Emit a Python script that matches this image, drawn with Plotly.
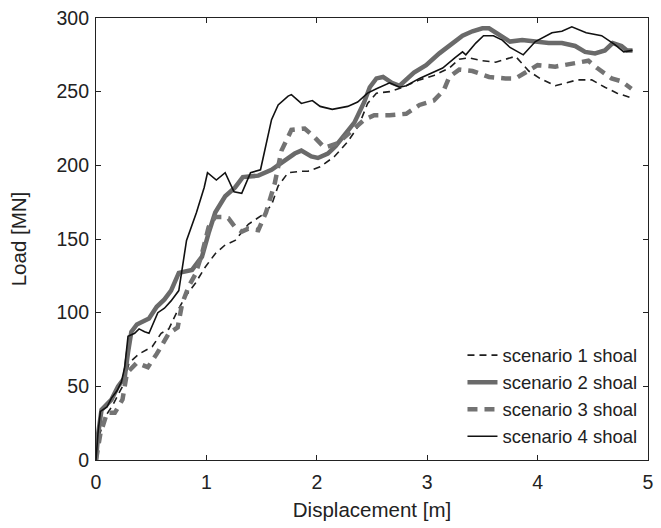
import plotly.graph_objects as go

# Load–displacement curves for four shoal scenarios
s1_x = [0, 0.02, 0.08, 0.15, 0.24, 0.30, 0.39, 0.51, 0.59, 0.66, 0.73, 0.81, 0.90, 0.99, 1.08, 1.17,
        1.26, 1.38, 1.50, 1.59, 1.65, 1.74, 1.86, 1.92, 2.03, 2.16, 2.28, 2.38, 2.46, 2.54, 2.66, 2.78,
        2.93, 3.06, 3.20, 3.29, 3.38, 3.50, 3.62, 3.74, 3.80, 3.92, 4.02, 4.16, 4.25, 4.36, 4.49, 4.61,
        4.72, 4.84]
s1_y = [0, 14, 29, 37, 50, 66, 72, 77, 86, 89, 100, 111, 120, 131, 140, 146,
        149, 160, 166, 173, 186, 195, 196, 196, 199, 206, 216, 227, 242, 249, 250, 253,
        258, 261, 266, 272, 273, 271, 270, 273, 274, 264, 259, 254, 256, 258, 258, 253,
        249, 246]

s2_x = [0, 0.02, 0.05, 0.14, 0.20, 0.26, 0.29, 0.32, 0.37, 0.42, 0.48, 0.55, 0.62, 0.68, 0.75, 0.87,
        0.96, 1.02, 1.08, 1.17, 1.26, 1.33, 1.47, 1.59, 1.71, 1.80, 1.86, 1.95, 2.01, 2.10, 2.17, 2.25,
        2.34, 2.43, 2.48, 2.54, 2.60, 2.68, 2.75, 2.88, 2.99, 3.11, 3.20, 3.32, 3.41, 3.50, 3.56, 3.65,
        3.75, 3.86, 3.98, 4.10, 4.22, 4.34, 4.43, 4.52, 4.61, 4.68, 4.76, 4.81, 4.86]
s2_y = [0, 18, 34, 41, 50, 56, 73, 87, 92, 94, 96, 104, 109, 115, 127, 129,
        138, 154, 168, 179, 185, 192, 193, 197, 203, 208, 210, 206, 205, 208, 213, 220,
        229, 243, 253, 259, 260, 256, 254, 263, 268, 276, 281, 288, 291, 293, 293, 289,
        284, 285, 284, 283, 283, 281, 277, 276, 278, 283, 281, 278, 278]

s3_x = [0, 0.04, 0.10, 0.17, 0.24, 0.28, 0.37, 0.47, 0.55, 0.66, 0.74, 0.78, 0.84, 0.90, 0.96, 1.02,
        1.08, 1.14, 1.20, 1.26, 1.32, 1.38, 1.47, 1.54, 1.62, 1.68, 1.77, 1.89, 1.98, 2.07, 2.19, 2.30,
        2.43, 2.52, 2.66, 2.81, 2.93, 3.06, 3.15, 3.20, 3.29, 3.41, 3.56, 3.71, 3.80, 3.89, 4.00, 4.16,
        4.31, 4.46, 4.54, 4.67, 4.76, 4.85]
s3_y = [0, 18, 32, 32, 41, 59, 66, 63, 72, 86, 90, 106, 118, 126, 140, 158,
        165, 165, 164, 158, 155, 157, 156, 168, 188, 210, 224, 225, 219, 212, 215, 222,
        231, 234, 234, 235, 241, 244, 251, 260, 265, 264, 260, 259, 259, 263, 268, 267,
        269, 271, 266, 259, 257, 252]

s4_x = [0, 0.02, 0.04, 0.10, 0.14, 0.19, 0.23, 0.26, 0.29, 0.35, 0.39, 0.44, 0.48, 0.56, 0.62, 0.68,
        0.75, 0.82, 0.91, 0.98, 1.01, 1.09, 1.17, 1.25, 1.32, 1.40, 1.49, 1.59, 1.65, 1.74, 1.77, 1.86,
        1.96, 2.03, 2.14, 2.28, 2.37, 2.46, 2.54, 2.66, 2.75, 2.81, 2.93, 3.02, 3.14, 3.25, 3.32, 3.35,
        3.44, 3.51, 3.60, 3.68, 3.75, 3.87, 3.98, 4.13, 4.22, 4.31, 4.44, 4.58, 4.70, 4.78, 4.86]
s4_y = [0, 20, 33, 36, 42, 47, 53, 63, 84, 86, 89, 87, 86, 100, 103, 108,
        115, 149, 168, 185, 195, 190, 195, 182, 181, 195, 197, 231, 241, 247, 248, 242,
        244, 240, 238, 240, 243, 249, 252, 256, 253, 254, 259, 262, 266, 273, 277, 275,
        283, 288, 288, 285, 280, 275, 284, 290, 291, 294, 290, 288, 282, 277, 278]

series_names = ["scenario 1 shoal", "scenario 2 shoal", "scenario 3 shoal", "scenario 4 shoal"]
x_ticks = [0, 1, 2, 3, 4, 5]
y_ticks = [0, 50, 100, 150, 200, 250, 300]

styles = [
    dict(color="#1e1e1e", width=1.6, dash="7px,5px"),
    dict(color="#6a6a6a", width=4.5),
    dict(color="#737373", width=4.5, dash="10px,7px"),
    dict(color="#111111", width=1.6),
]

FONT = "Liberation Sans, Arial, sans-serif"

fig = go.Figure()
for xs, ys, name, st in zip([s1_x, s2_x, s3_x, s4_x], [s1_y, s2_y, s3_y, s4_y], series_names, styles):
    fig.add_trace(go.Scatter(x=xs, y=ys, mode="lines", name=name, line=st))

axis_common = dict(
    showline=True, linecolor="#222222", linewidth=1.2, mirror="ticks",
    ticks="inside", ticklen=5, tickcolor="#222222", tickwidth=1,
    showgrid=False, zeroline=False,
    tickfont=dict(family=FONT, size=19.5, color="#222222"),
)

fig.update_layout(
    width=661, height=528,
    margin=dict(l=96, r=7, t=18, b=68),
    paper_bgcolor="white", plot_bgcolor="white",
    font=dict(family=FONT, size=19, color="#222222"),
    xaxis=dict(range=[0, 5], tickvals=x_ticks, ticklabelstandoff=4,
               title=dict(text="Displacement [m]", font=dict(size=20.5), standoff=11), **axis_common),
    yaxis=dict(range=[0, 300], tickvals=y_ticks, ticklabelstandoff=2,
               title=dict(text="Load [MN]", font=dict(size=20.5), standoff=24), **axis_common),
    legend=dict(x=0.99, y=0.01, xanchor="right", yanchor="bottom",
                bgcolor="rgba(0,0,0,0)", font=dict(size=18.5, color="#222222"),
                tracegroupgap=0),
    showlegend=True,
)

fig.write_html("out.html")
